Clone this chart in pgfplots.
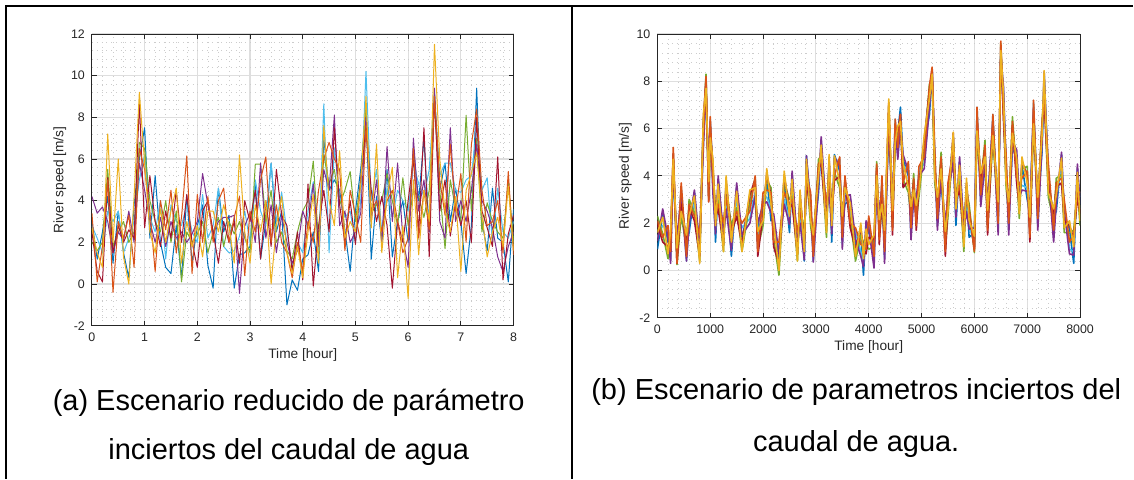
\documentclass[border=0pt]{standalone}
\usepackage{fontspec}
\setmainfont{Liberation Sans}
\usepackage{pgfplots}
\usepackage{pgfplotstable}
\pgfplotsset{compat=1.18}
\definecolor{mb}{rgb}{0,0.447,0.741}
\definecolor{mo}{rgb}{0.85,0.325,0.098}
\definecolor{my}{rgb}{0.929,0.694,0.125}
\definecolor{mp}{rgb}{0.494,0.184,0.556}
\definecolor{mg}{rgb}{0.466,0.674,0.188}
\definecolor{mc}{rgb}{0.301,0.745,0.933}
\definecolor{mr}{rgb}{0.635,0.078,0.184}
\definecolor{axcol}{rgb}{0.15,0.15,0.15}

\pgfplotstableread{
x l1 l2 l3 l4 l5 l6 l7
0.0 3.0 3.4 2.7 4.2 2.0 2.8 2.5
0.1 1.2 0.1 1.5 3.4 1.6 2.2 0.6
0.2 2.5 1.8 0.8 3.7 2.0 1.5 0.1
0.3 4.2 5.0 7.2 3.0 5.5 3.5 5.1
0.4 1.0 -0.4 2.0 1.5 1.8 3.0 1.5
0.5 3.5 3.0 6.0 2.5 2.5 3.5 2.8
0.6 1.5 2.2 1.3 2.1 3.0 1.5 2.0
0.7 0.3 3.3 0.0 3.5 2.0 2.2 2.6
0.8 3.8 0.8 4.2 2.0 2.5 3.0 2.2
0.9 6.0 6.5 9.2 5.8 6.8 5.0 8.7
1.0 7.5 5.5 5.8 4.5 6.5 6.2 2.7
1.1 2.2 3.5 2.5 3.0 4.0 3.2 5.2
1.2 5.2 0.6 1.5 2.0 3.0 2.5 3.0
1.3 2.0 4.0 3.6 3.2 2.5 4.0 1.8
1.4 0.8 2.6 2.0 1.8 4.0 1.2 3.5
1.5 0.5 4.5 3.5 3.0 2.0 3.8 2.2
1.6 2.8 1.5 4.6 2.2 3.5 3.0 4.5
1.7 0.3 3.2 1.0 2.5 0.1 2.8 2.0
1.8 4.2 6.15 3.0 2.0 2.5 3.8 4.3
1.9 1.0 0.5 1.8 2.4 2.0 2.5 2.0
2.0 2.8 4.3 2.8 3.0 2.4 2.0 0.8
2.1 3.8 2.0 1.3 5.3 3.0 4.3 3.5
2.2 0.9 4.2 3.5 3.8 1.5 2.2 4.0
2.3 -0.2 2.0 3.5 2.4 2.5 2.8 2.5
2.4 4.6 4.0 2.5 3.0 3.2 4.6 1.0
2.5 2.5 4.6 3.8 3.2 1.8 1.8 3.0
2.6 3.3 2.0 2.8 3.2 3.0 1.5 2.0
2.7 -0.2 3.2 1.0 3.3 2.4 1.6 3.0
2.8 1.4 4.2 6.2 -0.45 3.0 2.3 1.0
2.9 1.5 0.4 2.5 2.8 2.2 3.5 4.0
3.0 1.8 3.5 1.0 3.4 1.5 2.0 3.0
3.1 4.8 2.5 3.8 2.0 5.75 5.0 4.5
3.2 1.2 5.0 2.5 5.8 5.75 3.5 1.2
3.3 3.0 6.1 4.0 2.2 3.0 2.8 4.0
3.4 5.8 2.0 0.0 3.8 4.5 5.8 1.8
3.5 2.5 3.8 2.8 1.5 2.0 3.0 5.5
3.6 3.5 2.0 4.2 3.3 2.5 4.4 3.3
3.7 -1.0 1.5 1.5 2.0 1.6 2.5 2.8
3.8 0.2 0.3 0.5 1.0 1.2 0.8 0.6
3.9 -0.3 2.0 1.8 1.6 2.5 2.0 2.5
4.0 1.2 0.6 0.3 3.5 3.5 1.5 0.2
4.1 1.4 3.0 2.5 2.8 4.0 3.5 4.8
4.2 2.5 2.0 4.3 4.8 5.9 4.9 -0.1
4.3 0.6 4.5 1.0 1.8 2.0 1.5 2.8
4.4 7.0 6.0 7.6 5.5 6.2 8.65 4.5
4.5 4.5 6.8 4.0 4.5 4.8 1.5 2.5
4.6 5.0 6.0 2.8 8.1 5.5 6.5 7.5
4.7 4.5 5.5 6.4 2.8 3.8 4.2 3.8
4.8 2.6 1.6 2.2 3.5 4.5 3.2 2.0
4.9 0.6 4.5 3.0 2.0 5.4 3.5 4.0
5.0 3.5 3.3 2.5 2.5 3.0 2.0 1.9
5.1 5.5 2.0 4.8 3.4 5.0 4.0 5.0
5.2 8.2 7.6 9.0 8.0 8.5 10.2 7.5
5.3 1.2 3.5 2.7 3.0 3.4 4.0 4.5
5.4 4.2 4.0 6.7 5.0 3.8 5.5 3.0
5.5 2.0 2.5 1.5 2.0 4.0 2.5 4.2
5.6 5.5 4.0 4.2 6.6 5.3 4.6 2.8
5.7 1.3 4.5 5.6 3.0 4.0 3.2 -0.2
5.8 3.0 3.0 0.3 5.8 2.8 4.5 3.0
5.9 4.0 1.5 2.8 2.2 5.1 4.0 2.0
6.0 2.0 2.2 -0.7 0.8 2.8 3.5 4.0
6.1 6.5 6.5 5.0 7.0 4.5 5.8 6.0
6.2 4.0 2.2 1.4 3.5 4.2 4.8 2.5
6.3 7.0 4.5 4.5 5.0 3.2 4.2 7.5
6.4 2.5 2.6 3.0 2.5 4.5 5.5 1.3
6.5 9.0 9.0 11.5 9.4 8.8 9.2 9.0
6.6 4.5 5.0 6.0 3.0 4.5 5.2 3.5
6.7 5.8 3.3 3.5 2.2 1.7 5.8 5.0
6.8 3.0 6.7 2.5 7.5 5.0 5.8 2.3
6.9 4.6 3.5 4.2 3.0 3.6 4.5 4.0
7.0 3.0 5.3 0.6 4.0 3.0 4.4 2.8
7.1 0.5 2.0 4.5 3.0 8.1 5.0 4.0
7.2 2.8 6.7 5.3 4.5 3.5 5.2 2.0
7.3 9.4 8.4 6.3 6.7 7.0 7.5 8.0
7.4 3.0 4.5 3.3 4.0 2.5 4.5 3.5
7.5 1.6 2.8 1.3 3.5 3.9 5.1 2.7
7.6 4.6 3.0 2.5 2.7 3.0 2.0 1.8
7.7 2.2 4.0 3.2 1.3 2.5 4.6 6.1
7.8 2.0 1.5 1.8 0.6 2.2 2.5 0.2
7.9 0.1 5.4 4.7 1.8 4.9 2.2 2.4
8.0 3.6 1.4 1.6 2.5 2.0 3.0 3.3
}\lefttab

\pgfplotstableread{
x r1 r2 r3 r4 r5 r6 r7
0 0.9 2.1 1.6 1.25 2.3 1.4 1.95
100 2.4 1.4 2.25 2.6 1.55 1.9 1.2
200 1.2 1.9 0.7 1.4 0.5 1.7 1.0
250 1.35 0.8 1.7 0.3 1.2 0.5 1.5
300 4.0 5.2 4.7 4.35 4.9 4.5 4.95
370 1.1 0.3 0.95 1.3 0.25 0.6 0.3
450 3.0 3.7 2.5 3.2 2.3 3.5 2.8
550 1.15 0.6 1.5 0.4 1.0 0.4 1.3
600 1.6 2.8 2.3 1.95 3.0 2.1 2.65
700 3.3 2.3 3.15 3.4 2.45 2.8 2.1
800 0.8 1.5 0.3 1.0 0.4 1.3 0.6
870 6.25 5.7 6.6 5.2 6.1 5.4 6.4
920 7.3 8.2 7.7 7.6 8.3 7.5 8.1
970 3.9 2.9 3.75 4.1 3.05 3.4 2.9
1000 6.1 6.5 5.6 6.3 5.4 6.4 5.9
1050 4.35 3.8 4.7 3.3 4.2 3.5 4.5
1100 1.2 2.4 1.9 1.55 2.6 1.7 2.25
1150 3.8 2.8 3.65 4.0 2.95 3.3 2.6
1250 1.3 2.0 0.8 1.5 0.8 1.8 1.1
1300 3.65 3.1 4.0 2.6 3.5 2.8 3.8
1400 0.6 1.7 1.2 0.85 1.9 1.0 1.55
1500 3.5 2.5 3.35 3.7 2.65 3.0 2.3
1600 1.3 2.0 0.8 1.5 0.8 1.8 1.1
1750 3.05 2.5 3.4 2.0 2.9 2.2 3.2
1850 2.8 4.0 3.5 3.15 3.9 3.3 3.85
1900 1.8 0.8 1.65 2.0 0.95 1.3 0.6
2000 2.6 3.3 2.1 2.8 1.9 3.1 2.4
2070 3.95 3.4 4.3 2.9 3.8 3.1 4.1
2150 2.1 3.3 2.8 2.45 3.5 2.6 3.15
2200 2.2 1.2 2.05 2.4 1.35 1.7 1.0
2300 0.5 1.2 0.0 0.7 -0.2 1.0 0.3
2400 3.85 3.3 4.2 2.8 3.7 3.0 4.0
2500 1.6 2.8 2.3 1.95 3.0 2.1 2.65
2550 4.0 3.0 3.85 4.2 3.15 3.5 2.8
2650 0.9 1.6 0.4 1.1 0.4 1.4 0.7
2700 3.05 2.5 3.4 2.0 2.9 2.2 3.2
2780 0.4 1.3 0.8 0.45 1.5 0.6 1.15
2820 4.85 4.0 4.7 4.85 4.15 4.5 3.8
2900 2.6 3.3 2.1 2.8 1.9 3.1 2.4
2950 1.15 0.6 1.5 0.35 1.0 0.4 1.3
3050 3.3 4.5 4.0 3.65 4.7 3.8 4.35
3100 5.4 4.7 5.3 5.65 4.85 5.2 4.5
3200 2.1 2.8 1.6 2.3 1.4 2.6 1.9
3250 4.55 4.0 4.9 3.5 4.4 3.7 4.7
3300 1.2 2.4 1.9 1.55 2.6 1.7 2.25
3350 4.9 4.0 4.85 4.8 4.15 4.5 3.8
3450 4.2 4.8 3.7 4.4 3.5 4.7 4.0
3500 1.95 1.4 2.3 0.9 1.8 1.1 2.1
3550 2.8 4.0 3.5 3.15 3.8 3.3 3.85
3650 3.0 2.0 2.85 3.2 2.15 2.5 1.8
3750 1.1 1.8 0.6 1.3 0.4 1.6 0.9
3850 1.65 1.1 2.0 0.6 1.5 0.8 1.8
3900 -0.2 1.0 0.5 0.15 1.2 0.3 0.85
3950 1.9 0.9 1.75 2.1 1.05 1.4 0.7
4000 1.6 2.3 1.1 1.8 0.9 2.1 1.4
4100 1.15 0.6 1.5 0.1 1.0 0.3 1.3
4150 3.3 4.5 4.0 3.65 4.6 3.8 4.35
4200 2.3 1.3 2.15 2.5 1.45 1.8 1.1
4250 3.3 4.0 2.8 3.5 2.6 3.8 3.1
4300 1.35 0.8 1.7 0.3 1.2 0.5 1.5
4380 6.1 7.1 7.25 6.45 7.0 6.6 7.0
4450 2.7 1.7 2.55 2.9 1.85 2.2 1.5
4500 5.9 6.4 5.4 6.1 5.2 6.4 5.7
4550 5.75 5.2 6.1 4.7 5.6 4.9 5.9
4600 6.9 6.6 6.3 6.15 6.3 6.3 6.6
4650 4.7 3.7 4.55 4.9 3.85 4.2 3.5
4750 4.0 4.6 3.5 4.2 3.3 4.5 3.8
4800 2.35 1.8 2.7 1.3 2.2 1.5 2.5
4850 2.7 3.9 3.4 3.05 4.1 3.2 3.75
4900 2.9 1.9 2.75 3.1 2.05 2.4 1.7
4950 3.8 4.4 3.3 4.0 3.1 4.3 3.6
5050 5.35 4.8 5.7 4.3 5.2 4.5 5.5
5150 6.6 7.8 7.3 6.95 7.9 7.1 7.65
5200 8.5 8.6 8.3 8.4 7.9 8.2 8.5
5250 4.4 5.1 3.9 4.6 3.7 4.9 4.2
5300 2.75 2.2 3.1 1.7 2.6 1.9 2.9
5370 3.6 4.8 4.3 3.95 5.0 4.1 4.65
5450 1.8 0.8 1.65 2.0 0.95 1.3 0.6
5500 3.0 3.7 2.5 3.2 2.3 3.5 2.8
5600 5.65 5.1 5.85 4.6 5.5 4.8 5.8
5650 1.9 3.1 2.6 2.25 3.3 2.4 2.95
5720 4.6 3.6 4.45 4.8 3.75 4.1 3.4
5800 1.5 2.2 1.0 1.7 0.8 2.0 1.3
5850 3.55 3.0 3.9 2.5 3.4 2.7 3.7
5900 1.4 2.6 2.1 1.75 2.8 1.9 2.45
6000 1.6 0.8 1.45 1.8 0.75 1.1 0.9
6050 6.4 6.9 5.9 6.6 5.7 6.9 6.2
6120 3.75 3.2 4.1 2.7 3.6 2.9 3.9
6200 4.1 5.3 4.8 4.45 5.5 4.6 5.15
6250 2.7 1.7 2.55 2.9 1.85 2.2 1.5
6350 6.2 6.6 5.7 6.4 5.5 6.6 6.0
6450 2.55 2.0 2.9 1.5 2.4 1.7 2.7
6500 9.1 9.7 9.3 9.0 9.6 9.1 9.5
6550 7.6 6.6 7.45 7.8 6.75 7.1 6.4
6600 4.2 4.9 3.7 4.4 3.5 4.7 4.0
6650 2.55 2.0 2.9 1.5 2.4 1.7 2.7
6720 5.1 6.3 5.8 5.45 6.5 5.6 6.15
6800 4.9 3.9 4.75 5.1 4.05 4.4 3.7
6850 2.9 3.6 2.4 3.1 2.2 3.4 2.7
6900 4.45 3.9 4.8 3.4 4.3 3.6 4.6
7000 3.0 4.2 3.7 3.35 4.4 3.5 4.05
7050 2.4 1.4 2.25 2.6 1.55 1.9 1.2
7120 6.7 7.2 6.2 6.9 6.0 7.1 6.5
7200 2.75 2.2 3.1 1.7 2.6 1.9 2.9
7280 5.0 6.2 5.7 5.35 6.3 5.5 6.05
7320 8.3 7.4 8.45 8.4 7.55 7.9 7.2
7400 3.8 4.5 3.3 4.0 3.1 4.3 3.6
7500 2.25 1.7 2.6 1.2 2.1 1.4 2.4
7550 2.5 3.7 3.2 2.85 3.9 3.0 3.55
7650 4.9 3.9 4.75 5.0 4.05 4.4 3.7
7700 2.3 3.0 1.8 2.5 1.6 2.8 2.1
7800 1.75 1.2 2.1 0.7 1.6 0.9 1.9
7880 0.3 1.5 1.0 0.65 1.7 0.8 1.35
7950 4.3 3.3 4.15 4.5 3.45 3.8 3.1
8000 2.6 3.3 2.1 2.8 1.9 3.1 2.4
}\righttab

\pgfplotsset{
  mstyle/.style={
    scale only axis,
    axis line style={draw=axcol, line width=0.45pt},
    tick align=inside,
    major tick length=2.5pt,
    minor tick length=0pt,
    tick style={draw=axcol, line width=0.45pt},
    grid=both,
    minor tick num=4,
    major grid style={draw=black!13, line width=0.55pt},
    minor grid style={draw=black!20, dotted, line width=0.25pt},
    ticklabel style={font=\fontsize{6.2}{7}\selectfont, text=axcol},
    label style={font=\fontsize{6.85}{8}\selectfont, text=axcol},
    /pgf/number format/assume math mode=true,
    /pgf/number format/1000 sep={},
    scaled ticks=false,
    every axis plot/.append style={line join=round, mark=none},
  }
}

\begin{document}
\begin{tikzpicture}
\path (0pt,0pt) rectangle (567pt,239.5pt);
\draw[line width=1pt] (3pt,0pt) -- (3pt,236.5pt) -- (567pt,236.5pt);
\draw[line width=1pt] (286pt,0pt) -- (286pt,236.5pt);

\begin{axis}[mstyle,
  at={(46pt,76.5pt)}, anchor=south west,
  width=211pt, height=146pt,
  xmin=0, xmax=8, ymin=-2, ymax=12,
  xtick={0,1,...,8}, ytick={-2,0,...,12},
  xlabel={Time [hour]}, ylabel={River speed [m/s]},
  xlabel style={at={(axis description cs:0.5,-0.099)}, anchor=center},
  ylabel style={at={(axis description cs:-0.076,0.5)}, anchor=center},
  every axis plot/.append style={line width=0.5pt},
]
\addplot[mb] table[x=x,y=l1]{\lefttab};
\addplot[mc] table[x=x,y=l6]{\lefttab};
\addplot[mg] table[x=x,y=l5]{\lefttab};
\addplot[mp] table[x=x,y=l4]{\lefttab};
\addplot[mr] table[x=x,y=l7]{\lefttab};
\addplot[mo] table[x=x,y=l2]{\lefttab};
\addplot[my] table[x=x,y=l3]{\lefttab};
\end{axis}

\begin{axis}[mstyle,
  at={(329pt,80.5pt)}, anchor=south west,
  width=211.5pt, height=142pt,
  xmin=0, xmax=8000, ymin=-2, ymax=10,
  xtick={0,1000,...,8000}, ytick={-2,0,...,10},
  xlabel={Time [hour]}, ylabel={River speed [m/s]},
  xlabel style={at={(axis description cs:0.5,-0.102)}, anchor=center},
  ylabel style={at={(axis description cs:-0.076,0.5)}, anchor=center},
  every axis plot/.append style={line width=0.8pt},
]
\addplot[mb] table[x=x,y=r1]{\righttab};
\addplot[mc] table[x=x,y=r6]{\righttab};
\addplot[mg] table[x=x,y=r5]{\righttab};
\addplot[mp] table[x=x,y=r4]{\righttab};
\addplot[mr] table[x=x,y=r7]{\righttab};
\addplot[mo] table[x=x,y=r2]{\righttab};
\addplot[my] table[x=x,y=r3]{\righttab};
\end{axis}

\node[anchor=base, font=\fontsize{14.5}{17}\selectfont] at (144.5pt,34pt) {(a) Escenario reducido de parámetro};
\node[anchor=base, font=\fontsize{14.5}{17}\selectfont] at (144.5pt,9.5pt) {inciertos del caudal de agua};
\node[anchor=base, font=\fontsize{14.5}{17}\selectfont] at (428.5pt,39.5pt) {(b) Escenario de parametros inciertos del};
\node[anchor=base, font=\fontsize{14.5}{17}\selectfont] at (428.5pt,13.5pt) {caudal de agua.};
\end{tikzpicture}
\end{document}
